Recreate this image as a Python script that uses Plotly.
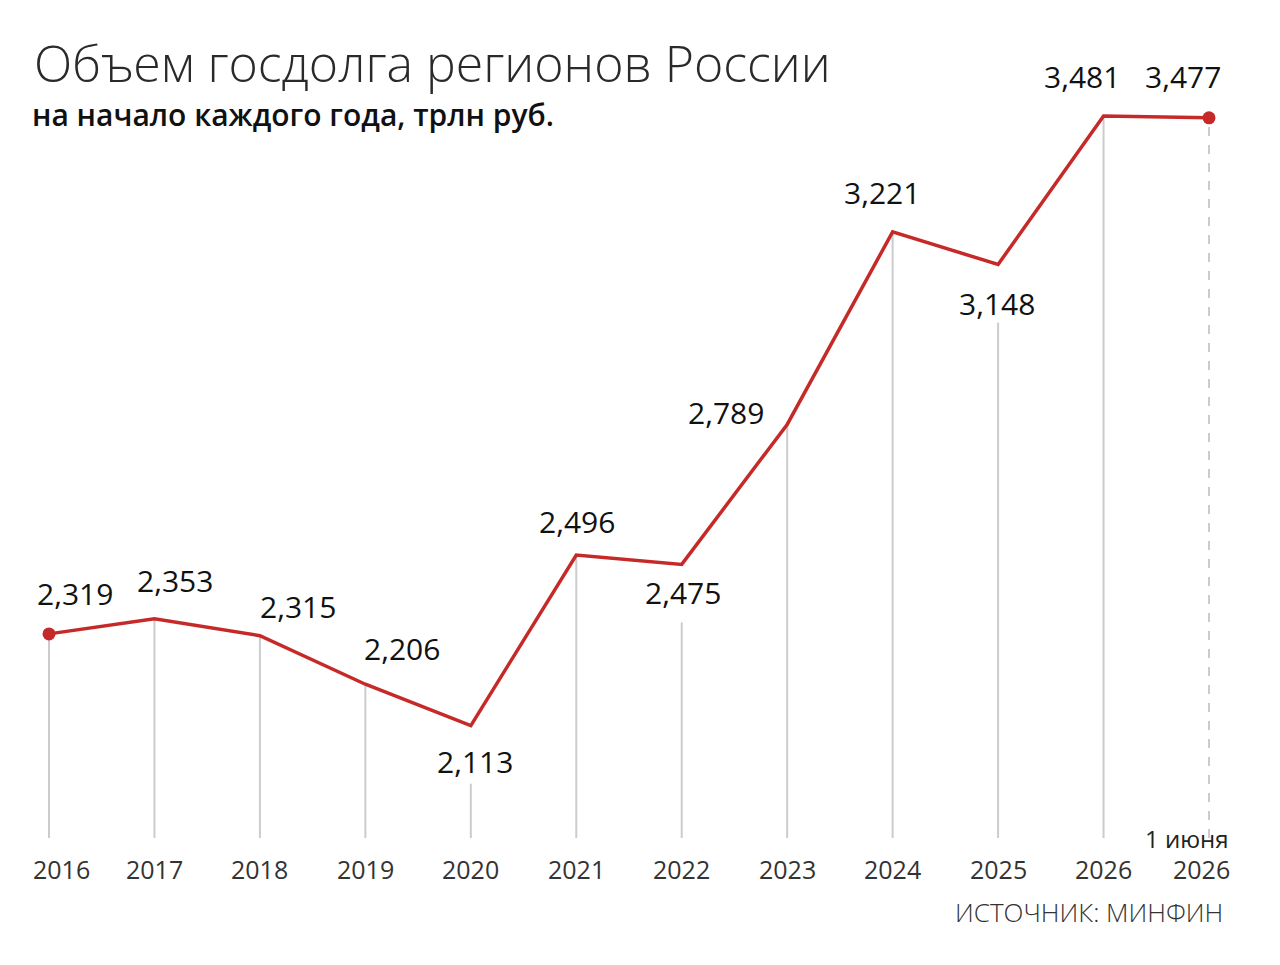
import plotly.graph_objects as go

years = ["2016", "2017", "2018", "2019", "2020", "2021", "2022", "2023", "2024", "2025", "2026", "2026"]
debt = [2.319, 2.353, 2.315, 2.206, 2.113, 2.496, 2.475, 2.789, 3.221, 3.148, 3.481, 3.477]
labels = ["2,319", "2,353", "2,315", "2,206", "2,113", "2,496", "2,475", "2,789", "3,221", "3,148", "3,481", "3,477"]
below = [False, False, False, False, True, False, True, False, False, True, False, False]

RED = "#c62a28"
GRAY = "#cccccc"
FONT = "Open Sans"
ymin, ymax = 1.861, 3.517
px_per_unit = 738 / (ymax - ymin)

xs = list(range(len(debt)))
fig = go.Figure()

# vertical guides from baseline up to each point (stop short under labels placed below)
for i, v in enumerate(debt):
    top = v - 58 / px_per_unit if below[i] else v
    fig.add_trace(go.Scatter(
        x=[i, i], y=[ymin, top], mode="lines",
        line=dict(color=GRAY, width=2, dash="dash" if i == len(debt) - 1 else "solid"),
        hoverinfo="skip", showlegend=False))

fig.add_trace(go.Scatter(
    x=xs, y=debt, mode="lines", line=dict(color=RED, width=3.5),
    showlegend=False, cliponaxis=False))
fig.add_trace(go.Scatter(
    x=[xs[0], xs[-1]], y=[debt[0], debt[-1]], mode="markers",
    marker=dict(color=RED, size=13), showlegend=False, cliponaxis=False))

# label offsets in pixels (x, y)
shifts = [(26, 40), (21, 38), (38, 29), (37, 36), (4, -36), (1, 34),
          (1, -28), (-61, 12), (-11, 39), (-1, -39), (-22, 40), (-26, 41)]
for i, (v, t) in enumerate(zip(debt, labels)):
    dx, dy = shifts[i]
    fig.add_annotation(x=i, y=v, text=t, showarrow=False, xshift=dx, yshift=dy,
                       font=dict(family=FONT, size=30, color="#111111"))

# year labels under the baseline, edge ones nudged inward
year_dx = [12, 0, 0, 0, 0, 0, 0, 0, 0, 0, 0, -8]
for i, t in enumerate(years):
    fig.add_annotation(x=i, y=ymin, text=t, showarrow=False, yanchor="top",
                       xshift=year_dx[i], yshift=-12,
                       font=dict(family=FONT, size=25, color="#333333"))

fig.add_annotation(xref="paper", yref="paper", x=0.0, y=1.0, xanchor="left", yanchor="bottom",
                   text="Объем госдолга регионов России", showarrow=False,
                   font=dict(family=FONT, size=50, color="#2a2a2a", weight=300),
                   xshift=12, yshift=1)
fig.add_annotation(xref="paper", yref="paper", x=0.0, y=1.0, xanchor="left", yanchor="bottom",
                   text="на начало каждого года, трлн руб.", showarrow=False,
                   font=dict(family=FONT, size=30, color="#111111", weight=600),
                   xshift=10, yshift=-37)
fig.add_annotation(x=xs[-1], y=ymin, xref="x", yref="y", text="1 июня", showarrow=False,
                   xanchor="right", yanchor="bottom", xshift=22, yshift=-19,
                   font=dict(family=FONT, size=24, color="#222222"))
fig.add_annotation(xref="paper", yref="paper", x=1.0, y=0.0, xanchor="right", yanchor="top",
                   text="ИСТОЧНИК: МИНФИН", showarrow=False, xshift=-15, yshift=-54,
                   font=dict(family=FONT, size=26, color="#333333", weight=300))

fig.update_xaxes(range=[-0.275, 11.294], showgrid=False, zeroline=False,
                 showline=False, showticklabels=False, ticks="")
fig.update_yaxes(range=[ymin, ymax], visible=False)
fig.update_layout(width=1280, height=965, margin=dict(l=12, r=48, t=92, b=135),
                  plot_bgcolor="white", paper_bgcolor="white")

fig.write_html("out.html")
